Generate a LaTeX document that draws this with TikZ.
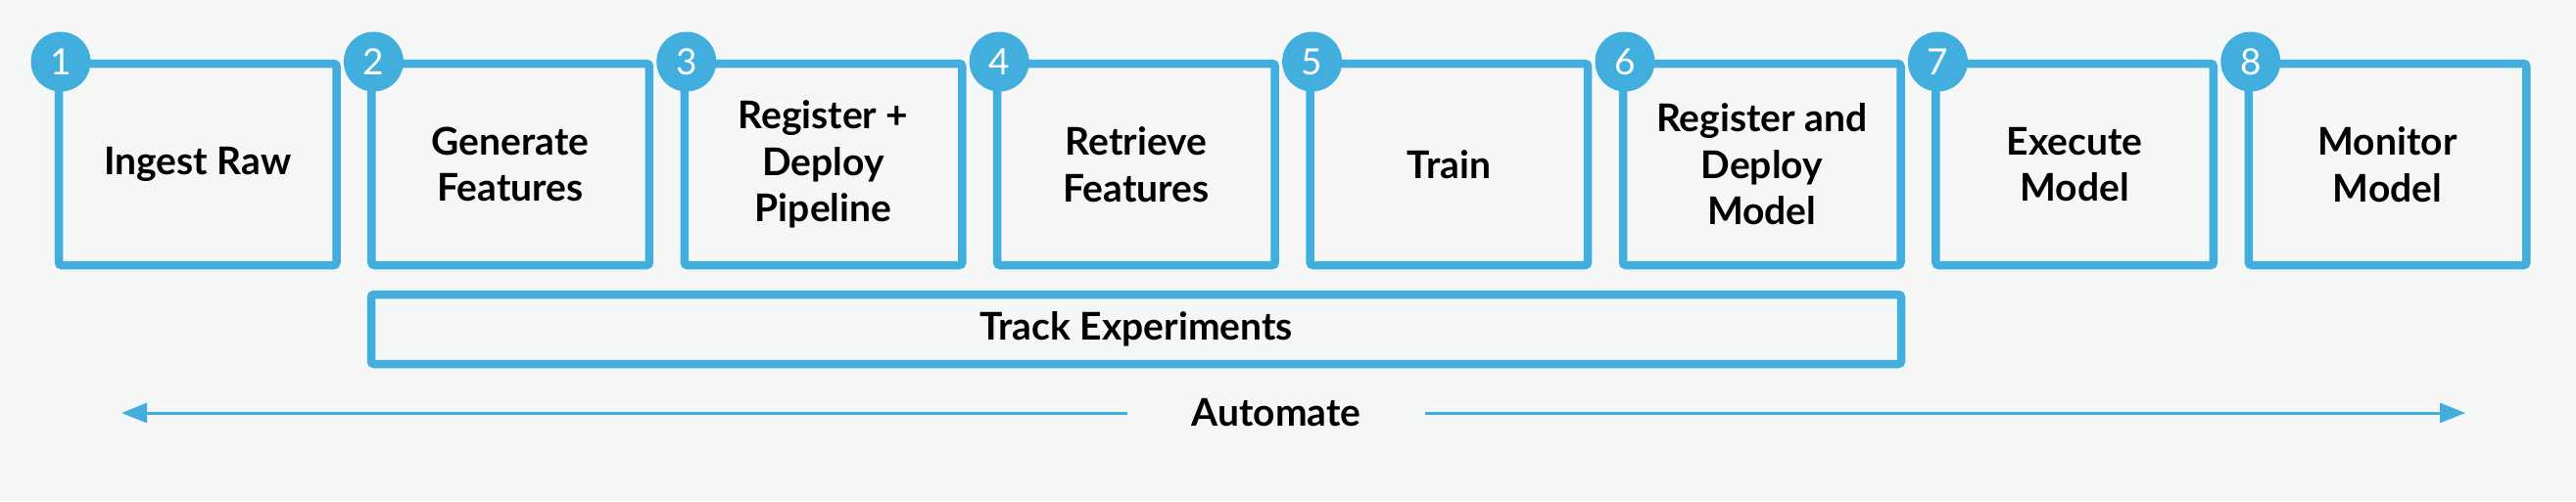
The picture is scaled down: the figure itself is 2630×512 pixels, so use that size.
\documentclass[tikz,border=0pt]{standalone}
\usepackage{fontspec}
\setmainfont{Lato}
\usetikzlibrary{arrows.meta}
\definecolor{bluec}{HTML}{42AEDD}
\definecolor{bgc}{HTML}{F5F6F6}
\begin{document}
\begin{tikzpicture}[x=1pt,y=-1pt,
  stepbox/.style={draw=bluec,line width=8.5pt,rounded corners=3pt,minimum width=283.5pt,minimum height=206pt,inner sep=0pt,outer sep=0pt,align=center,font=\fontsize{39}{47.5}\selectfont\bfseries,text=black},
  numc/.style={circle,fill=bluec,minimum size=61pt,inner sep=0pt,text=white,font=\fontsize{37}{40}\selectfont},
  trackbox/.style={draw=bluec,line width=8.5pt,rounded corners=3pt,minimum width=1562pt,minimum height=71pt,inner sep=0pt,outer sep=0pt,font=\fontsize{39}{46}\selectfont\bfseries},
  autolbl/.style={minimum width=304pt,inner sep=0pt,outer sep=0pt,font=\fontsize{39}{46}\selectfont\bfseries},
  autoarrow/.style={draw=bluec,line width=3pt,-{Triangle[length=26pt,width=20pt]}}
]
\fill[bgc] (0,0) rectangle (2630,512);
\useasboundingbox (0,0) rectangle (2630,512);
\foreach \i/\t in {1/{Ingest Raw},2/{Generate\\Features},3/{Register +\\Deploy\\Pipeline},4/{Retrieve\\Features},5/{Train},6/{Register and\\Deploy\\Model},7/{Execute\\Model},8/{Monitor\\Model}}{
  \pgfmathsetmacro{\xl}{60+319.4*(\i-1)}
  \node[stepbox] (b\i) at (\xl+141.75,168) {\t};
  \node[numc] (n\i) at ([shift={(2,-2)}]b\i.north west) {\i};
}
\node[trackbox] (track) at (1160,336.5) {Track Experiments};
\node[autolbl] (auto) at (1303,422) {Automate};
\coordinate (aL) at (124,422);
\coordinate (aR) at (2517,422);
\draw[autoarrow] (auto.west) -- (aL);
\draw[autoarrow] (auto.east) -- (aR);
\end{tikzpicture}
\end{document}
